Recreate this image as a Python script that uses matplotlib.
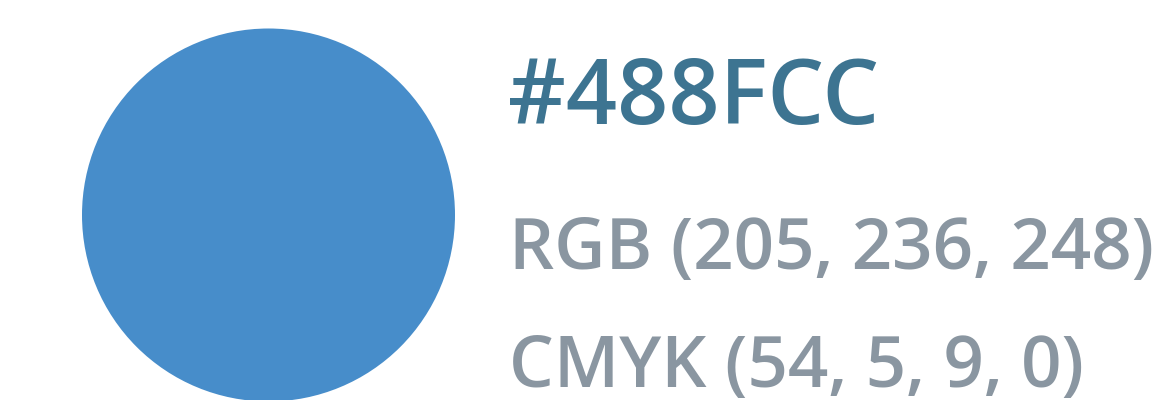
import matplotlib
matplotlib.use("Agg")
import matplotlib.pyplot as plt
from matplotlib.patches import Circle

# colour swatch values
hex_code = "#488FCC"
rgb = [205, 236, 248]
cmyk = [54, 5, 9, 0]
swatch_colour = "#478DCA"

title_colour = "#3D7491"
info_colour = "#8A96A1"

fig = plt.figure(figsize=(11.63, 4.0), dpi=100)
ax = fig.add_axes([0, 0, 1, 1])
ax.set_xlim(0, 1163)
ax.set_ylim(400, 0)
ax.set_aspect("equal")
ax.axis("off")

ax.add_patch(Circle((268.5, 215), 186.5, color=swatch_colour, lw=0))

font = dict(family=["Open Sans", "DejaVu Sans"], weight="semibold")
ax.text(508, 124, hex_code, fontsize=64.5, color=title_colour, va="baseline", ha="left", **font)
ax.text(509, 269, "RGB (" + ", ".join(str(v) for v in rgb) + ")",
        fontsize=51, color=info_colour, va="baseline", ha="left", **font)
ax.text(509, 387, "CMYK (" + ", ".join(str(v) for v in cmyk) + ")",
        fontsize=51, color=info_colour, va="baseline", ha="left", **font)

fig.savefig("out.png", dpi=100)
